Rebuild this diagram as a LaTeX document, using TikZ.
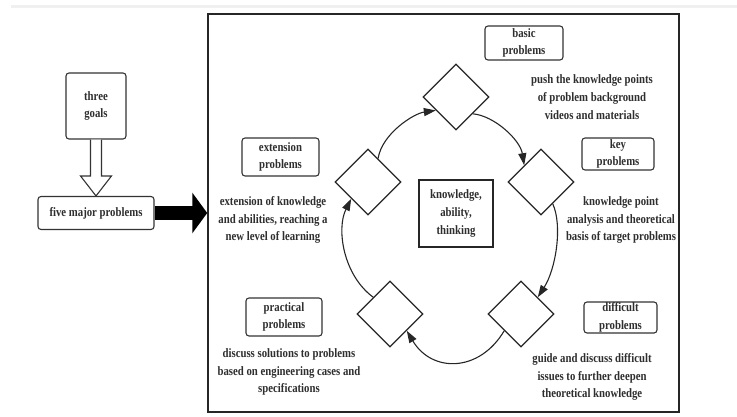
\documentclass[tikz,border=0pt]{standalone}
\usepackage{fontspec}
\setmainfont{Liberation Serif}[FakeStretch=0.84]
\usetikzlibrary{arrows.meta,shapes.geometric,calc}
\begin{document}
\begin{tikzpicture}[x=1pt,y=-1pt,
  lbl/.style={font=\bfseries\fontsize{12.8}{17.7}\selectfont, text=black!82, align=center, inner sep=0pt},
  pbox/.style={lbl, draw=black!80, line width=1.1pt, rounded corners=3pt},
  dia/.style={diamond, draw=black!85, line width=1.2pt, fill=white, minimum width=66pt, minimum height=66pt, inner sep=0pt},
  flow/.style={draw=black!85, line width=1.1pt, -{Triangle[length=12pt,width=8pt]}},
  hollow/.style={draw=black!80, line width=1.1pt, fill=white}]
\useasboundingbox (0,0) rectangle (737,416);
\fill[gray!12] (11,4.5) rectangle (737,8);

% left part
\node[pbox, minimum width=60pt, minimum height=66pt] (goals) at (96,106) {three\\goals};
\node[pbox, minimum width=116pt, minimum height=33pt] (five) at (96,213) {five major problems};
\draw[hollow] ($(goals.south)+(-5.5,0)$) -- ($(five.north)+(-5.5,-20)$) -- ($(five.north)+(-15.5,-20)$) -- (five.north) -- ($(five.north)+(15.5,-20)$) -- ($(five.north)+(5.5,-20)$) -- ($(goals.south)+(5.5,0)$);

% frame
\node[draw=black!85, line width=1.5pt, minimum width=471pt, minimum height=398pt, inner sep=0pt] (frame) at (443.5,213) {};
\draw[black, line width=14pt, -{Triangle[length=15pt,width=40pt]}] (five.east) -- (frame.west);

% diamonds
\node[dia] (T) at (456,97) {};
\node[dia] (K) at (541,182) {};
\node[dia] (D) at (521,314) {};
\node[dia] (P) at (390,314) {};
\node[dia] (E) at (368,182) {};

% centre
\node[lbl, draw=black!85, line width=1.2pt, minimum width=74pt, minimum height=67pt] (core) at (456,213.5) {knowledge,\\ability,\\thinking};

% cycle
\draw[flow] (T.south east) .. controls +(22,2) and +(-4,-25) .. (K.north west);
\draw[flow] ($(K.south)!0.35!(K.east)$) .. controls +(10,22) and +(18,-28) .. (D.north east);
\draw[flow] (D.south west) .. controls +(-25,42) and +(25,42) .. (P.south east);
\draw[flow] (P.north west) .. controls +(-30,-22) and +(-15,30) .. (E.south west);
\draw[flow] ($(E.north)!0.3!(E.east)$) .. controls +(4,-25) and +(-22,3) .. ($(T.west)!0.4!(T.south)$);

% labels
\node[pbox, minimum width=78pt, minimum height=34pt] (basic) at (524,43) {basic\\problems};
\node[lbl] (basicT) at (592,97) {push the knowledge points\\of problem background\\videos and materials};
\node[pbox, minimum width=72pt, minimum height=32pt] (key) at (618,154) {key\\problems};
\node[lbl] (keyT) at (621,220) {knowledge point\\analysis and theoretical\\basis of target problems};
\node[pbox, minimum width=73pt, minimum height=31pt] (diff) at (620.5,317.5) {difficult\\problems};
\node[lbl] (diffT) at (592,377) {guide and discuss difficult\\issues to further deepen\\theoretical knowledge};
\node[pbox, minimum width=77pt, minimum height=38pt] (ext) at (280.5,157) {extension\\problems};
\node[lbl] (extT) at (273,220) {extension of knowledge\\and abilities, reaching a\\new level of learning};
\node[pbox, minimum width=76pt, minimum height=38pt] (prac) at (284,317) {practical\\problems};
\node[lbl] (pracT) at (289,372) {discuss solutions to problems\\based on engineering cases and\\specifications};
\end{tikzpicture}
\end{document}
